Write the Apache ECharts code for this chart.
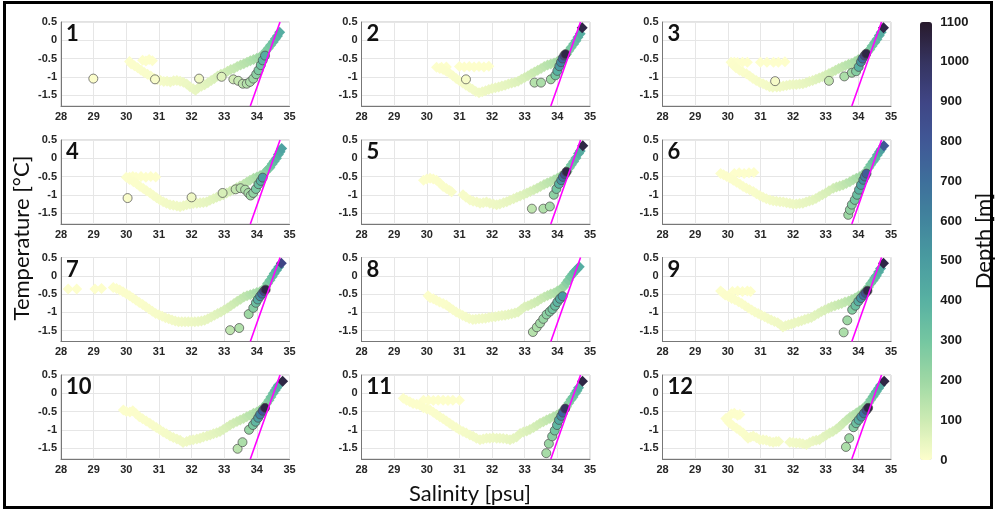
<!DOCTYPE html>
<html><head><meta charset="utf-8">
<script src="https://cdn.jsdelivr.net/npm/echarts@6/dist/echarts.min.js"></script>
<style>html,body{margin:0;padding:0;background:#fff}#c{width:996px;height:513px}</style>
</head><body><div id="c"></div>
<script>
// ---- axis ranges / ticks ----
const SAL_MIN = 28, SAL_MAX = 35, SAL_STEP = 1;
const TEMP_MIN = -1.8, TEMP_MAX = 0.5;
const TEMP_TICKS = [-1.5, -1, -0.5, 0, 0.5];
const DEPTH_MIN = 0, DEPTH_MAX = 1100, DEPTH_STEP = 100;
const PANEL_LABELS = ['1','2','3','4','5','6','7','8','9','10','11','12'];
const X_TITLE = 'Salinity [psu]';
const Y_TITLE = 'Temperature [°C]';
const CB_TITLE = 'Depth [m]';
// reference (mixing) line: salinity / temperature end points
const REF_LINE_SAL = [33.8, 34.71];
const REF_LINE_TEMP = [-1.8, 0.5];

// ---- diamonds [salinity, temperature, depth] ----
const D1 = [[30.5,-0.55,1],[30.6,-0.57,1],[30.7,-0.53,1],[30.8,-0.56,1],
[30.1,-0.58,2],[30.15,-0.65,3],[30.25,-0.7,4],[30.35,-0.75,5],[30.45,-0.82,6],[30.55,-0.88,8],[30.65,-0.93,9],[30.75,-0.98,10],[30.85,-1.04,12],[30.95,-1.08,14],[31.05,-1.1,16],[31.15,-1.13,18],[31.25,-1.12,20],[31.35,-1.14,22],[31.45,-1.11,24],[31.55,-1.1,26],[31.65,-1.12,28],[31.75,-1.15,30],[31.85,-1.2,33],[31.95,-1.27,36],[32.05,-1.33,40],[32.12,-1.37,42],[32.2,-1.31,45],[32.3,-1.26,50],[32.4,-1.22,55],[32.5,-1.16,60],[32.6,-1.1,65],[32.7,-1.05,70],[32.8,-0.98,78],[32.9,-0.93,85],[33.0,-0.9,92],[33.1,-0.85,100],[33.2,-0.8,108],[33.3,-0.77,115],[33.4,-0.72,122],[33.5,-0.68,130],[33.6,-0.64,138],[33.7,-0.6,145],[33.8,-0.56,155],[33.9,-0.53,165],[34.0,-0.49,180],[34.1,-0.45,200],[34.2,-0.4,220],[34.27,-0.3,250],[34.35,-0.22,280],[34.42,-0.14,300],[34.5,-0.05,330],[34.57,0.04,360],[34.63,0.12,390],[34.7,0.22,420]];
const D2 = [[30.45,-0.74,1],[30.6,-0.73,1],[31.0,-0.72,1],[31.15,-0.73,1],[31.3,-0.72,1],[31.45,-0.73,1],[31.6,-0.72,1],[31.75,-0.73,1],[31.9,-0.71,1],
[30.3,-0.74,2],[30.4,-0.77,3],[30.5,-0.8,4],[30.6,-0.85,5],[30.7,-0.9,6],[30.8,-0.97,8],[30.9,-1.05,10],[31.0,-1.11,12],[31.1,-1.17,14],[31.2,-1.23,16],[31.3,-1.29,18],[31.4,-1.34,20],[31.5,-1.4,22],[31.6,-1.44,25],[31.7,-1.41,28],[31.8,-1.38,30],[31.9,-1.35,32],[32.0,-1.32,35],[32.1,-1.3,38],[32.2,-1.28,40],[32.3,-1.25,43],[32.4,-1.23,46],[32.5,-1.2,50],[32.6,-1.17,55],[32.7,-1.15,60],[32.8,-1.12,65],[32.9,-1.07,72],[33.0,-1.02,80],[33.1,-0.97,88],[33.2,-0.92,96],[33.3,-0.87,105],[33.4,-0.82,112],[33.5,-0.77,120],[33.6,-0.72,130],[33.7,-0.68,140],[33.8,-0.65,150],[33.9,-0.62,160],[34.0,-0.58,175],[34.1,-0.52,195],[34.2,-0.47,215],[34.28,-0.38,240],[34.35,-0.29,265],[34.42,-0.2,290],[34.5,-0.1,320],[34.57,-0.01,350],[34.63,0.08,380],[34.7,0.18,410],[34.76,0.34,1050]];
const D3 = [[30.2,-0.6,1],[30.3,-0.61,1],[30.45,-0.6,1],[30.6,-0.6,1],[31.0,-0.6,1],[31.2,-0.6,1],[31.4,-0.6,1],[31.55,-0.6,1],[31.75,-0.59,1],
[30.1,-0.6,2],[30.16,-0.68,3],[30.25,-0.75,4],[30.36,-0.82,5],[30.46,-0.87,6],[30.57,-0.92,7],[30.67,-0.98,8],[30.77,-1.05,10],[30.87,-1.1,12],[30.97,-1.15,14],[31.08,-1.19,16],[31.18,-1.23,18],[31.28,-1.27,20],[31.38,-1.29,22],[31.5,-1.28,24],[31.6,-1.27,26],[31.7,-1.25,28],[31.8,-1.24,30],[31.9,-1.22,32],[32.0,-1.21,34],[32.1,-1.21,36],[32.2,-1.2,38],[32.3,-1.19,40],[32.4,-1.16,44],[32.5,-1.13,48],[32.6,-1.1,52],[32.7,-1.07,58],[32.8,-1.03,64],[32.9,-1.0,70],[33.0,-0.95,78],[33.1,-0.91,86],[33.2,-0.87,95],[33.3,-0.82,104],[33.4,-0.77,112],[33.5,-0.73,120],[33.6,-0.7,130],[33.7,-0.66,140],[33.8,-0.63,150],[33.9,-0.58,165],[34.0,-0.53,180],[34.1,-0.49,200],[34.2,-0.42,225],[34.28,-0.32,250],[34.35,-0.25,275],[34.42,-0.16,300],[34.5,-0.06,330],[34.57,0.03,360],[34.64,0.13,390],[34.7,0.22,420],[34.77,0.34,1050]];
const D4 = [[30.1,-0.52,1],[30.2,-0.5,1],[30.3,-0.52,1],[30.45,-0.5,1],[30.6,-0.52,1],[30.75,-0.5,1],[30.9,-0.51,1],
[30.0,-0.52,2],[30.1,-0.58,3],[30.22,-0.64,4],[30.32,-0.7,5],[30.42,-0.77,6],[30.52,-0.83,7],[30.62,-0.89,8],[30.73,-0.95,10],[30.83,-1.02,12],[30.93,-1.08,14],[31.03,-1.14,16],[31.13,-1.19,18],[31.23,-1.23,20],[31.34,-1.27,22],[31.44,-1.29,24],[31.55,-1.31,26],[31.65,-1.33,28],[31.75,-1.3,30],[31.85,-1.27,32],[31.95,-1.25,34],[32.05,-1.24,36],[32.16,-1.23,38],[32.26,-1.22,40],[32.36,-1.21,43],[32.46,-1.2,46],[32.56,-1.15,50],[32.67,-1.11,55],[32.77,-1.07,60],[32.87,-1.03,66],[32.97,-1.0,72],[33.07,-0.95,80],[33.18,-0.9,88],[33.28,-0.86,96],[33.38,-0.81,104],[33.48,-0.76,112],[33.59,-0.71,120],[33.69,-0.66,130],[33.79,-0.6,140],[33.9,-0.55,155],[34.0,-0.51,170],[34.1,-0.47,190],[34.2,-0.44,210],[34.27,-0.37,240],[34.34,-0.3,265],[34.4,-0.25,290],[34.47,-0.16,320],[34.53,-0.08,350],[34.6,0.0,380],[34.66,0.1,410],[34.71,0.18,440],[34.76,0.27,470]];
const D5 = [[29.9,-0.6,2],[30.0,-0.57,2],[30.1,-0.55,3],[30.2,-0.57,3],[30.3,-0.6,4],[30.4,-0.68,5],[30.5,-0.77,6],[30.6,-0.83,7],[30.7,-0.88,8],[30.76,-0.92,9],
[31.11,-1.0,12],[31.2,-1.07,13],[31.32,-1.14,15],[31.42,-1.18,17],[31.53,-1.2,19],[31.63,-1.23,21],[31.73,-1.22,23],[31.83,-1.2,25],[31.93,-1.23,27],[32.04,-1.25,29],[32.14,-1.27,31],[32.24,-1.25,34],[32.35,-1.22,37],[32.45,-1.19,40],[32.55,-1.15,44],[32.66,-1.11,48],[32.76,-1.07,52],[32.86,-1.03,58],[32.97,-0.99,64],[33.07,-0.95,70],[33.17,-0.91,78],[33.28,-0.86,86],[33.38,-0.82,95],[33.48,-0.77,104],[33.59,-0.72,114],[33.69,-0.68,125],[33.79,-0.64,135],[33.9,-0.59,150],[34.0,-0.55,165],[34.1,-0.49,185],[34.2,-0.43,210],[34.3,-0.36,240],[34.37,-0.26,270],[34.43,-0.18,300],[34.5,-0.09,330],[34.57,0.01,360],[34.65,0.13,400],[34.7,0.2,430],[34.78,0.34,1050]];
const D6 = [[30.2,-0.42,1],[30.35,-0.4,1],[30.5,-0.42,1],[30.65,-0.4,1],[30.8,-0.39,1],
[29.78,-0.42,2],[29.87,-0.45,2],[29.97,-0.5,3],[30.07,-0.55,3],[30.17,-0.6,4],[30.27,-0.66,5],[30.37,-0.71,5],[30.47,-0.77,6],[30.57,-0.82,7],[30.67,-0.86,8],[30.78,-0.91,9],[30.88,-0.97,10],[30.98,-1.02,12],[31.08,-1.07,14],[31.18,-1.11,16],[31.29,-1.14,18],[31.39,-1.16,20],[31.49,-1.18,22],[31.6,-1.19,24],[31.7,-1.2,26],[31.8,-1.22,28],[31.9,-1.23,30],[32.0,-1.25,32],[32.1,-1.25,34],[32.2,-1.24,37],[32.3,-1.23,40],[32.4,-1.2,43],[32.5,-1.17,46],[32.6,-1.14,50],[32.7,-1.1,55],[32.8,-1.05,60],[32.9,-1.0,66],[33.0,-0.95,72],[33.1,-0.89,80],[33.23,-0.82,90],[33.33,-0.79,100],[33.43,-0.76,110],[33.53,-0.73,120],[33.63,-0.69,130],[33.74,-0.64,142],[33.84,-0.59,155],[33.94,-0.55,170],[34.05,-0.5,190],[34.15,-0.45,210],[34.25,-0.35,240],[34.32,-0.26,270],[34.38,-0.18,300],[34.45,-0.09,330],[34.51,-0.02,360],[34.58,0.09,390],[34.65,0.18,430],[34.7,0.25,470],[34.78,0.34,800]];
const D7 = [[28.22,-0.36,0],[28.48,-0.36,0],[29.04,-0.36,1],[29.24,-0.35,1],
[29.6,-0.32,2],[29.7,-0.35,2],[29.8,-0.39,3],[29.9,-0.44,3],[30.0,-0.49,4],[30.1,-0.55,4],[30.2,-0.61,5],[30.3,-0.67,6],[30.4,-0.73,6],[30.5,-0.79,7],[30.6,-0.85,8],[30.7,-0.91,9],[30.8,-0.97,10],[30.9,-1.03,12],[31.0,-1.07,13],[31.1,-1.11,15],[31.2,-1.15,17],[31.3,-1.18,19],[31.4,-1.21,21],[31.5,-1.24,23],[31.6,-1.26,25],[31.7,-1.26,27],[31.8,-1.26,29],[31.9,-1.26,31],[32.0,-1.26,33],[32.1,-1.26,35],[32.2,-1.25,37],[32.3,-1.24,40],[32.4,-1.22,43],[32.5,-1.18,46],[32.6,-1.13,50],[32.7,-1.08,55],[32.8,-1.03,60],[32.9,-0.99,66],[33.0,-0.94,72],[33.1,-0.88,80],[33.2,-0.82,88],[33.3,-0.76,96],[33.4,-0.7,105],[33.5,-0.64,115],[33.6,-0.58,125],[33.7,-0.55,135],[33.8,-0.52,148],[33.9,-0.49,160],[34.0,-0.46,175],[34.1,-0.43,195],[34.2,-0.4,215],[34.27,-0.3,245],[34.33,-0.21,275],[34.4,-0.12,305],[34.47,-0.03,340],[34.53,0.06,370],[34.6,0.15,400],[34.67,0.24,440],[34.75,0.34,900]];
const D8 = [[30.04,-0.55,2],[30.1,-0.6,3],[30.2,-0.63,3],[30.29,-0.67,4],[30.39,-0.72,5],[30.5,-0.76,6],[30.6,-0.8,7],[30.7,-0.87,8],[30.8,-0.93,9],[30.9,-0.99,10],[31.0,-1.04,12],[31.1,-1.09,14],[31.2,-1.13,16],[31.3,-1.17,18],[31.41,-1.2,20],[31.5,-1.19,22],[31.6,-1.18,24],[31.7,-1.17,26],[31.8,-1.16,28],[31.9,-1.14,30],[32.0,-1.13,32],[32.1,-1.12,34],[32.2,-1.1,36],[32.3,-1.09,38],[32.4,-1.08,40],[32.5,-1.06,43],[32.6,-1.04,46],[32.7,-1.02,50],[32.8,-0.99,55],[32.9,-0.92,60],[33.0,-0.85,66],[33.1,-0.82,72],[33.2,-0.78,80],[33.3,-0.74,88],[33.4,-0.69,96],[33.5,-0.63,105],[33.6,-0.58,115],[33.7,-0.54,125],[33.8,-0.5,138],[33.9,-0.47,150],[34.0,-0.42,165],[34.1,-0.36,185],[34.2,-0.3,210],[34.27,-0.2,240],[34.33,-0.12,270],[34.4,-0.03,300],[34.47,0.05,330],[34.53,0.12,360],[34.6,0.18,390],[34.67,0.25,420]];
const D9 = [[30.14,-0.43,1],[30.3,-0.42,1],[30.45,-0.43,1],[30.6,-0.42,1],[30.7,-0.43,1],
[29.78,-0.42,2],[29.85,-0.47,2],[29.92,-0.53,3],[30.02,-0.57,3],[30.12,-0.62,4],[30.22,-0.66,5],[30.33,-0.71,5],[30.43,-0.76,6],[30.53,-0.82,7],[30.63,-0.88,8],[30.73,-0.94,9],[30.83,-0.99,10],[30.93,-1.03,12],[31.03,-1.08,14],[31.13,-1.12,16],[31.23,-1.17,18],[31.33,-1.21,20],[31.43,-1.25,22],[31.53,-1.29,24],[31.62,-1.35,26],[31.69,-1.4,28],[31.77,-1.37,30],[31.86,-1.34,32],[31.95,-1.32,34],[32.05,-1.29,36],[32.16,-1.26,38],[32.26,-1.23,40],[32.36,-1.2,43],[32.46,-1.17,46],[32.56,-1.14,50],[32.66,-1.09,55],[32.77,-1.03,60],[32.87,-0.98,66],[32.97,-0.94,72],[33.08,-0.89,80],[33.18,-0.85,88],[33.28,-0.82,96],[33.39,-0.79,104],[33.49,-0.76,112],[33.59,-0.72,122],[33.7,-0.69,132],[33.8,-0.65,145],[33.9,-0.61,160],[34.01,-0.55,175],[34.12,-0.49,195],[34.22,-0.4,225],[34.31,-0.31,255],[34.38,-0.21,285],[34.45,-0.13,315],[34.5,-0.06,340],[34.55,0.0,365],[34.62,0.1,400],[34.68,0.2,430],[34.77,0.34,1050]];
const D10 = [[29.91,-0.46,2],[30.0,-0.5,2],[30.11,-0.51,3],[30.2,-0.48,3],[30.3,-0.56,4],[30.4,-0.64,5],[30.5,-0.7,6],[30.61,-0.76,7],[30.72,-0.82,8],[30.82,-0.88,9],[30.92,-0.94,10],[31.03,-1.0,12],[31.13,-1.06,14],[31.23,-1.11,16],[31.34,-1.17,18],[31.44,-1.21,20],[31.55,-1.25,22],[31.65,-1.29,24],[31.74,-1.35,26],[31.85,-1.32,28],[31.95,-1.29,30],[32.05,-1.27,32],[32.16,-1.25,34],[32.26,-1.23,36],[32.36,-1.2,39],[32.47,-1.17,42],[32.57,-1.14,45],[32.67,-1.11,49],[32.77,-1.08,54],[32.87,-1.05,60],[32.97,-0.99,66],[33.08,-0.93,72],[33.18,-0.87,80],[33.28,-0.82,88],[33.39,-0.77,96],[33.49,-0.73,105],[33.59,-0.69,115],[33.69,-0.64,125],[33.79,-0.6,138],[33.9,-0.55,150],[34.0,-0.51,165],[34.1,-0.46,185],[34.2,-0.38,210],[34.3,-0.28,240],[34.37,-0.19,270],[34.43,-0.1,300],[34.5,0.0,330],[34.56,0.08,360],[34.61,0.15,390],[34.66,0.22,420],[34.79,0.33,1050]];
const D11 = [[29.9,-0.19,1],[30.05,-0.19,1],[30.2,-0.2,1],[30.35,-0.19,1],[30.5,-0.19,1],[30.65,-0.2,1],[30.8,-0.19,1],[31.0,-0.19,1],
[29.28,-0.14,2],[29.38,-0.19,2],[29.48,-0.23,2],[29.58,-0.28,3],[29.69,-0.3,3],[29.79,-0.33,3],[29.9,-0.4,4],[30.0,-0.43,4],[30.1,-0.46,5],[30.2,-0.52,5],[30.3,-0.58,6],[30.4,-0.64,6],[30.5,-0.7,7],[30.6,-0.76,8],[30.7,-0.82,9],[30.8,-0.88,10],[30.9,-0.94,11],[31.0,-1.0,12],[31.11,-1.05,14],[31.21,-1.09,16],[31.32,-1.14,18],[31.42,-1.18,20],[31.52,-1.23,22],[31.63,-1.27,24],[31.73,-1.25,26],[31.83,-1.23,28],[31.93,-1.23,30],[32.03,-1.22,32],[32.14,-1.23,34],[32.24,-1.23,36],[32.34,-1.24,38],[32.45,-1.25,40],[32.55,-1.27,43],[32.65,-1.24,46],[32.75,-1.2,50],[32.86,-1.1,55],[32.96,-1.06,60],[33.06,-1.03,66],[33.16,-0.99,72],[33.27,-0.94,80],[33.37,-0.88,88],[33.47,-0.82,96],[33.57,-0.78,105],[33.67,-0.73,115],[33.77,-0.69,125],[33.88,-0.64,138],[33.98,-0.6,150],[34.08,-0.55,168],[34.18,-0.46,190],[34.28,-0.37,220],[34.35,-0.27,250],[34.42,-0.17,280],[34.48,-0.1,310],[34.55,0.0,340],[34.6,0.07,370],[34.65,0.15,400],[34.77,0.33,1050]];
const D12 = [[30.11,-0.57,1],[30.2,-0.55,1],[30.3,-0.6,1],[30.37,-0.58,1],
[29.94,-0.69,2],[30.0,-0.76,2],[30.06,-0.82,3],[30.16,-0.89,3],[30.27,-0.96,4],[30.37,-1.02,5],[30.47,-1.09,6],[30.55,-1.16,7],[30.62,-1.23,8],[30.7,-1.2,8],[30.78,-1.17,9],[30.88,-1.22,10],[30.98,-1.27,11],[31.08,-1.27,12],[31.18,-1.29,13],[31.29,-1.32,14],[31.39,-1.34,15],[31.48,-1.32,16],[31.56,-1.32,17],
[31.9,-1.34,20],[32.0,-1.35,22],[32.1,-1.36,24],[32.2,-1.36,26],[32.3,-1.38,28],[32.41,-1.4,30],[32.51,-1.35,33],[32.61,-1.31,36],[32.71,-1.29,40],[32.81,-1.27,45],[32.92,-1.2,50],[33.02,-1.14,56],[33.12,-1.09,62],[33.22,-1.05,70],[33.33,-0.98,78],[33.43,-0.91,88],[33.53,-0.82,98],[33.64,-0.73,110],[33.74,-0.66,122],[33.84,-0.6,135],[33.94,-0.54,150],[34.04,-0.48,168],[34.14,-0.42,190],[34.24,-0.35,215],[34.32,-0.26,245],[34.38,-0.18,275],[34.45,-0.09,305],[34.5,-0.02,335],[34.55,0.05,365],[34.62,0.14,400],[34.68,0.22,440],[34.79,0.33,1050]];

// ---- circles [salinity, temperature, depth] ----
const C1 = [[28.99,-1.05,5],[30.88,-1.07,10],[32.23,-1.05,25],[32.92,-1.0,60],[33.28,-1.07,90],[33.43,-1.11,110],[33.57,-1.19,130],[33.69,-1.19,150],[33.79,-1.14,170],[33.89,-1.05,200],[33.98,-0.93,240],[34.05,-0.82,280],[34.12,-0.68,320],[34.18,-0.55,370],[34.25,-0.42,420]];
const C2 = [[31.2,-1.07,15],[33.3,-1.16,150],[33.5,-1.16,170],[33.8,-1.07,200],[33.94,-0.96,300],[34.0,-0.84,400],[34.06,-0.71,500],[34.11,-0.6,600],[34.16,-0.5,750],[34.21,-0.42,900],[34.25,-0.38,1050]];
const C3 = [[31.45,-1.12,15],[33.1,-1.11,120],[33.57,-0.99,170],[33.8,-0.89,200],[33.93,-0.85,260],[34.01,-0.73,400],[34.08,-0.59,550],[34.13,-0.5,700],[34.19,-0.42,900],[34.24,-0.37,1050]];
const C4 = [[30.04,-1.09,8],[32.0,-1.07,30],[32.95,-0.95,80],[33.35,-0.85,120],[33.5,-0.82,140],[33.64,-0.86,160],[33.74,-0.95,180],[33.81,-1.02,200],[33.89,-0.95,230],[33.97,-0.84,280],[34.05,-0.71,340],[34.12,-0.62,400],[34.18,-0.53,500]];
const C5 = [[33.22,-1.38,130],[33.57,-1.38,160],[33.77,-1.32,190],[33.89,-1.0,240],[33.97,-0.84,300],[34.05,-0.7,400],[34.12,-0.6,550],[34.17,-0.51,700],[34.23,-0.44,850],[34.28,-0.37,1050]];
const C6 = [[33.69,-1.55,200],[33.74,-1.41,230],[33.8,-1.27,260],[33.89,-1.14,300],[33.96,-1.0,340],[34.02,-0.86,400],[34.08,-0.73,480],[34.15,-0.59,560],[34.2,-0.5,650],[34.25,-0.42,780]];
const C7 = [[33.18,-1.49,130],[33.46,-1.43,160],[33.75,-1.05,200],[33.89,-0.88,260],[33.97,-0.74,330],[34.03,-0.65,420],[34.1,-0.56,550],[34.16,-0.49,700],[34.22,-0.42,880],[34.27,-0.38,1050]];
const C8 = [[33.25,-1.54,150],[33.37,-1.41,170],[33.47,-1.3,190],[33.57,-1.18,210],[33.67,-1.06,240],[33.77,-0.98,270],[33.85,-0.91,300],[33.93,-0.82,340],[34.0,-0.72,380],[34.08,-0.63,430],[34.16,-0.56,500]];
const C9 = [[33.55,-1.55,170],[33.66,-1.22,200],[33.81,-0.93,260],[33.91,-0.82,330],[34.0,-0.7,420],[34.08,-0.61,550],[34.16,-0.53,700],[34.22,-0.47,850],[34.28,-0.41,1050]];
const C10 = [[33.41,-1.52,140],[33.56,-1.34,170],[33.76,-1.0,220],[33.88,-0.87,290],[33.96,-0.78,370],[34.04,-0.67,480],[34.1,-0.58,620],[34.18,-0.48,800],[34.25,-0.4,1050]];
const C11 = [[33.66,-1.64,180],[33.74,-1.38,210],[33.84,-1.18,250],[33.92,-1.02,300],[33.99,-0.87,370],[34.05,-0.73,450],[34.12,-0.62,580],[34.17,-0.53,750],[34.24,-0.42,1000]];
const C12 = [[33.62,-1.47,170],[33.72,-1.23,200],[33.85,-0.93,260],[33.93,-0.82,330],[34.01,-0.73,420],[34.09,-0.64,540],[34.17,-0.55,680],[34.25,-0.46,850],[34.3,-0.4,1050]];

const DIAMONDS = [D1,D2,D3,D4,D5,D6,D7,D8,D9,D10,D11,D12];
const CIRCLES = [C1,C2,C3,C4,C5,C6,C7,C8,C9,C10,C11,C12];

// ---- layout & style ----
const COL_LEFT = [61, 361.5, 662.5];
const ROW_TOP = [22, 140, 257.5, 375];
const PW = 228.5, PH = 84;
const DEEP = ['#fdfecc','#cdebb3','#9ed8a4','#74c6a1','#58b1a2','#4a9ca0','#41859d','#3e6f9b','#405896','#3f4585','#35335f','#281a2c'];
const TICK_FONT = {fontSize: 11, fontWeight: 'bold', color: '#262626', fontFamily: 'Liberation Sans, Arial, sans-serif'};

const grids = [], xAxes = [], yAxes = [], series = [], titles = [], vmIdx = [];
for (let i = 0; i < 12; i++) {
  const r = Math.floor(i / 3), c = i % 3;
  grids.push({left: COL_LEFT[c], top: ROW_TOP[r], width: PW, height: PH, show: true,
    borderColor: '#c4c4c4', borderWidth: 1, backgroundColor: '#fff'});
  xAxes.push({type: 'value', gridIndex: i, min: SAL_MIN, max: SAL_MAX, interval: SAL_STEP,
    axisLine: {show: true, onZero: false, lineStyle: {color: '#777', width: 1}},
    axisTick: {show: false},
    axisLabel: Object.assign({margin: 5}, TICK_FONT),
    splitLine: {show: true, lineStyle: {color: '#e6e6e6', width: 1}}});
  yAxes.push({type: 'value', gridIndex: i, min: TEMP_MIN, max: TEMP_MAX,
    axisLine: {show: true, onZero: false, lineStyle: {color: '#777', width: 1}},
    axisTick: {show: false, customValues: TEMP_TICKS},
    axisLabel: Object.assign({margin: 4, customValues: TEMP_TICKS, formatter: v => String(v)}, TICK_FONT),
    splitLine: {show: true, lineStyle: {color: '#e6e6e6', width: 1}}});
  vmIdx.push(series.length);
  series.push({type: 'scatter', xAxisIndex: i, yAxisIndex: i, symbol: 'diamond', symbolSize: 11,
    data: DIAMONDS[i], itemStyle: {opacity: 1}, z: 2, silent: true});
  vmIdx.push(series.length);
  series.push({type: 'scatter', xAxisIndex: i, yAxisIndex: i, symbol: 'circle', symbolSize: 9,
    data: CIRCLES[i], itemStyle: {borderColor: '#4a4a4a', borderWidth: 0.7, opacity: 1}, z: 3, silent: true});
  series.push({type: 'line', xAxisIndex: i, yAxisIndex: i, symbol: 'none', silent: true, z: 4,
    data: REF_LINE_SAL.map((s, k) => [s, REF_LINE_TEMP[k]]),
    lineStyle: {color: '#ff00ff', width: 1.6}});
  titles.push({text: PANEL_LABELS[i], left: COL_LEFT[c] + 5, top: ROW_TOP[r] + 1, padding: 0,
    textStyle: {fontSize: 22, fontWeight: 'bold', fontFamily: 'Lato, sans-serif', color: '#111'}});
}
// colorbar label axis
const CB = {left: 920, top: 22, width: 12, height: 438};
grids.push({left: CB.left, top: CB.top, width: CB.width, height: CB.height, show: false});
xAxes.push({type: 'value', gridIndex: 12, show: false, min: 0, max: 1});
yAxes.push({type: 'value', gridIndex: 12, min: DEPTH_MIN, max: DEPTH_MAX, interval: DEPTH_STEP, position: 'right',
  axisLine: {show: false}, axisTick: {show: false}, splitLine: {show: false},
  axisLabel: {margin: 10, fontSize: 13, fontWeight: 'bold', color: '#1a1a1a', fontFamily: 'Liberation Sans, Arial, sans-serif', formatter: v => String(v)},
  name: CB_TITLE, nameLocation: 'middle', nameRotate: 90, nameGap: 42,
  nameTextStyle: {fontSize: 22, fontFamily: 'Lato, sans-serif', color: '#111'}});
series.push({type: 'scatter', xAxisIndex: 12, yAxisIndex: 12, data: [], silent: true});

const option = {
  animation: false,
  backgroundColor: '#fff',
  title: titles,
  grid: grids,
  xAxis: xAxes,
  yAxis: yAxes,
  visualMap: {type: 'continuous', min: DEPTH_MIN, max: DEPTH_MAX, dimension: 2, seriesIndex: vmIdx,
    inRange: {color: DEEP}, show: true, calculable: false, orient: 'vertical',
    left: CB.left, top: CB.top, itemWidth: CB.width, itemHeight: CB.height, padding: 0, text: null,
    hoverLink: false},
  graphic: [
    {type: 'rect', shape: {x: 4.5, y: 2.5, width: 987, height: 505}, style: {fill: 'none', stroke: '#000', lineWidth: 3}, silent: true, z: 100},
    {type: 'text', x: 22, y: 238, rotation: Math.PI / 2, style: {text: Y_TITLE, fontSize: 22, fontFamily: 'Lato, sans-serif', fill: '#111', align: 'center', verticalAlign: 'middle'}},
    {type: 'text', x: 470, y: 494, style: {text: X_TITLE, fontSize: 22, fontFamily: 'Lato, sans-serif', fill: '#111', align: 'center', verticalAlign: 'middle'}}
  ],
  series: series
};
const chart = echarts.init(document.getElementById('c'));
chart.setOption(option);
</script></body></html>
